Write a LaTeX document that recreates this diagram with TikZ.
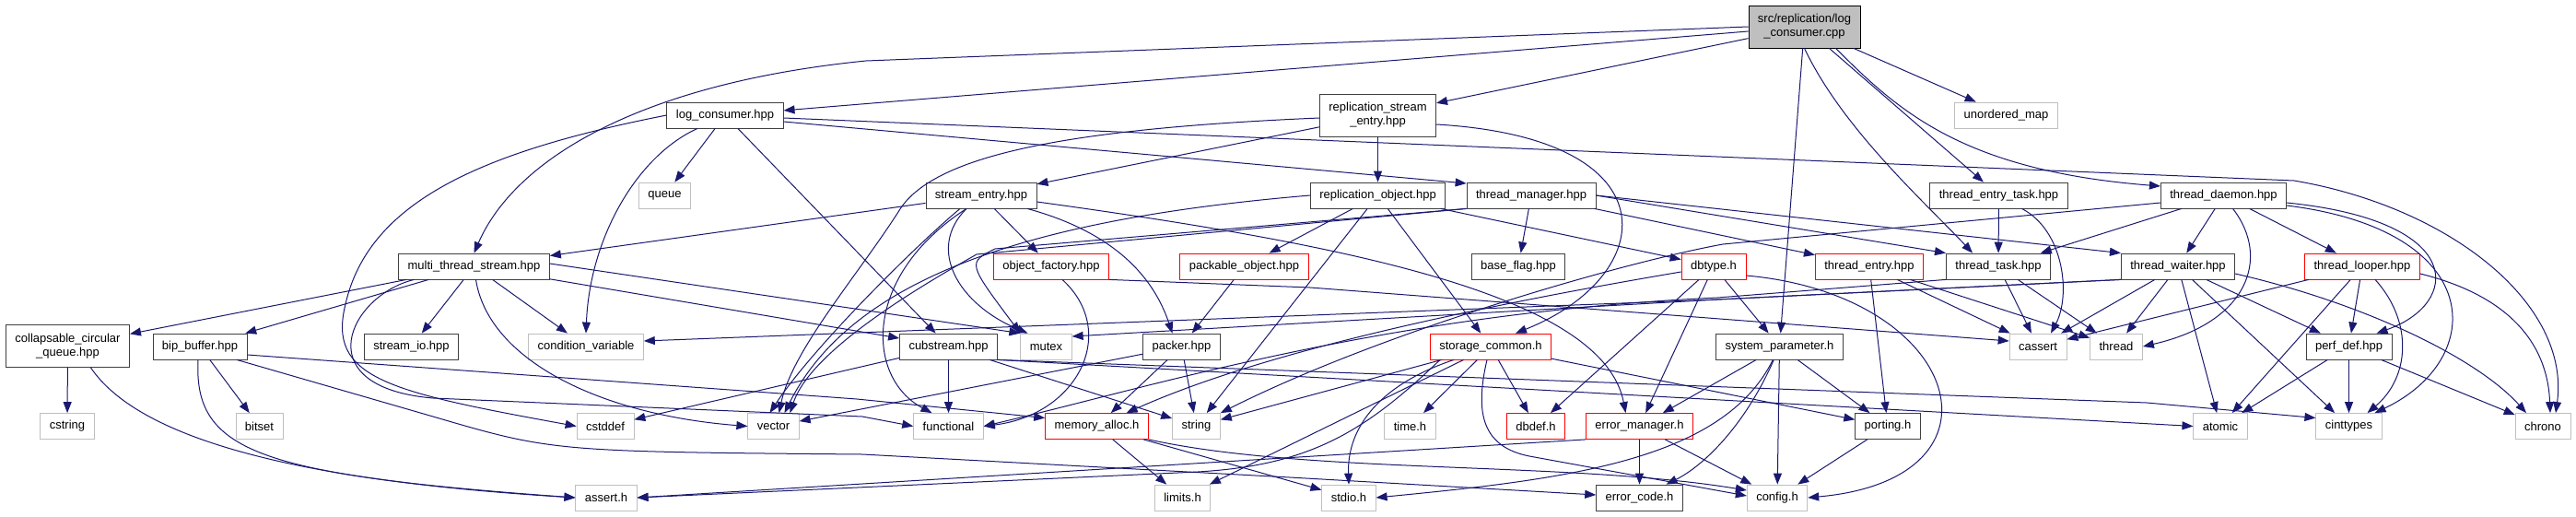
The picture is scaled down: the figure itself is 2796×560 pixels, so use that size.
\documentclass[tikz,border=0pt]{standalone}
\usepackage{fontspec}
\setmainfont{Liberation Sans}
\usepackage{tikz}
\usetikzlibrary{arrows.meta}

\definecolor{edgeblue}{HTML}{191970}
\definecolor{sysgray}{HTML}{BFBFBF}
\definecolor{rootgray}{HTML}{BFBFBF}
\definecolor{hdrline}{HTML}{404040}

\begin{document}
\begin{tikzpicture}[x=1pt, y=-1pt,
    box/.style={rectangle, font=\fontsize{13}{15}\selectfont, inner xsep=10pt, inner ysep=2pt,
        minimum height=28pt, line width=0.8pt, align=center, fill=white},
    tall/.style={minimum height=46pt},
    hdr/.style={box, draw=hdrline},
    sysinc/.style={box, draw=sysgray},
    trunc/.style={box, draw=red},
    rootfile/.style={box, draw=black, fill=rootgray},
    dep/.style={draw=edgeblue, line width=1pt, -{Triangle[length=12pt, width=9pt]}},
]

\path[use as bounding box, fill=white] (0,0) rectangle (2796,560);

% row 0 and 1
\node[rootfile, tall] (cpp) at (1958.5,29) {src/replication/log\\\_consumer.cpp};
\node[hdr] (lchpp) at (787,125) {log\_consumer.hpp};
\node[hdr, tall] (rse) at (1495.5,125) {replication\_stream\\\_entry.hpp};
\node[sysinc] (umap) at (2177.5,125) {unordered\_map};

% row 2
\node[sysinc] (queue) at (721.5,212) {queue};
\node[hdr] (sentry) at (1065,212) {stream\_entry.hpp};
\node[hdr] (robj) at (1495.5,212) {replication\_object.hpp};
\node[hdr] (tmgr) at (1662,212) {thread\_manager.hpp};
\node[hdr] (tetask) at (2169.5,212) {thread\_entry\_task.hpp};
\node[hdr] (tdaemon) at (2413.5,212) {thread\_daemon.hpp};

% row 3
\node[hdr] (mts) at (514.5,289) {multi\_thread\_stream.hpp};
\node[trunc] (ofact) at (1141,289) {object\_factory.hpp};
\node[trunc] (pobj) at (1350.5,289) {packable\_object.hpp};
\node[hdr] (bflag) at (1648,289) {base\_flag.hpp};
\node[trunc] (dbtype) at (1860,289) {dbtype.h};
\node[trunc] (tentry) at (2029,289) {thread\_entry.hpp};
\node[hdr] (ttask) at (2169,289) {thread\_task.hpp};
\node[hdr] (twaiter) at (2364,289) {thread\_waiter.hpp};
\node[trunc] (tlooper) at (2564,289) {thread\_looper.hpp};

% row 4
\node[hdr, tall] (ccq) at (73.5,375.5) {collapsable\_circular\\\_queue.hpp};
\node[hdr] (bipbuf) at (217,376) {bip\_buffer.hpp};
\node[hdr] (sio) at (446.5,376) {stream\_io.hpp};
\node[sysinc] (condvar) at (636,376) {condition\_variable};
\node[hdr] (cubs) at (1029.5,376) {cubstream.hpp};
\node[sysinc] (mutex) at (1135.5,376) {mutex};
\node[hdr] (packer) at (1282.5,376) {packer.hpp};
\node[trunc] (stcom) at (1618,376) {storage\_common.h};
\node[hdr] (sysparam) at (1931.5,376) {system\_parameter.h};
\node[sysinc] (cassert) at (2212,376) {cassert};
\node[sysinc] (thread) at (2297,376) {thread};
\node[hdr] (perfdef) at (2549.5,376) {perf\_def.hpp};

% row 5
\node[sysinc] (cstring) at (73,462.5) {cstring};
\node[sysinc] (bitset) at (281.5,462.5) {bitset};
\node[sysinc] (cstddef) at (657,462.5) {cstddef};
\node[sysinc] (vector) at (839.5,462.5) {vector};
\node[sysinc] (functional) at (1029.5,462.5) {functional};
\node[trunc] (malloc) at (1190.5,462.5) {memory\_alloc.h};
\node[sysinc] (string) at (1298.5,462.5) {string};
\node[sysinc] (timeh) at (1530.5,462.5) {time.h};
\node[trunc] (dbdef) at (1667,462.5) {dbdef.h};
\node[trunc] (errmgr) at (1779.5,462.5) {error\_manager.h};
\node[hdr] (porting) at (2049,462.5) {porting.h};
\node[sysinc] (atomic) at (2410,462.5) {atomic};
\node[sysinc] (cinttypes) at (2549.5,462.5) {cinttypes};
\node[sysinc] (chrono) at (2760,462.5) {chrono};

% row 6
\node[sysinc] (asserth) at (658,540) {assert.h};
\node[sysinc] (limits) at (1283.5,540) {limits.h};
\node[sysinc] (stdio) at (1464,540) {stdio.h};
\node[hdr] (errcode) at (1779.5,540) {error\_code.h};
\node[sysinc] (config) at (1929,540) {config.h};

% short includes
\foreach \src/\dst in {cpp/lchpp, cpp/rse, cpp/sysparam, cpp/tetask, cpp/umap,
    lchpp/queue, lchpp/cubs, rse/sentry, rse/robj, sentry/mts, sentry/ofact,
    robj/pobj, robj/stcom, robj/dbtype, robj/string, tmgr/bflag, tmgr/tentry,
    pobj/packer, packer/string, packer/malloc, packer/vector,
    dbtype/sysparam, dbtype/errmgr, dbtype/dbdef,
    stcom/timeh, stcom/dbdef, stcom/porting, stcom/string, stcom/limits,
    errmgr/errcode, errmgr/config, sysparam/errmgr, sysparam/porting, sysparam/config,
    porting/config, tentry/porting, tentry/cassert, tentry/thread,
    ttask/cassert, ttask/thread, tetask/ttask,
    tdaemon/ttask, tdaemon/twaiter, tdaemon/tlooper,
    twaiter/cassert, twaiter/thread, twaiter/atomic, twaiter/cinttypes, twaiter/perfdef,
    tlooper/atomic, tlooper/perfdef, tlooper/cassert,
    perfdef/atomic, perfdef/cinttypes, perfdef/chrono,
    cubs/functional, cubs/string, cubs/cstddef, malloc/limits, malloc/stdio,
    ccq/cstring, bipbuf/bitset, mts/ccq, mts/bipbuf, mts/sio, mts/condvar, mts/cubs}
    \draw[dep] (\src) -- (\dst);

% routed includes
\draw[dep] (cpp.west) -- (940,66) .. controls (700,90) and (560,170) .. (mts.north);
\draw[dep] (cpp.south) .. controls (2000,140) and (2090,220) .. ([xshift=-28]ttask.north);
\draw[dep] ([xshift=-27]cpp.south east) .. controls (2060,120) and (2130,185) .. ([yshift=10]tdaemon.west);

\draw[dep] ([xshift=-30]lchpp.south) .. controls (690,170) and (640,260) .. (condvar.north);
\draw[dep] (lchpp.west) .. controls (520,165) and (400,220) .. (375,330)
    .. controls (355,410) and (420,425) .. (cstddef.west);
\draw[dep] ([yshift=-7]lchpp.east) -- ([yshift=13]tmgr.west);
\draw[dep] ([yshift=-3]lchpp.east) -- (2490,196) .. controls (2660,225) and (2790,330) .. ([xshift=14]chrono.north);

\draw[dep] ([yshift=-10]rse.east) .. controls (1820,150) and (1800,300) .. ([xshift=27]stcom.north);
\draw[dep] ([yshift=-3]rse.west) .. controls (1150,140) and (1010,170) .. (975,230)
    .. controls (930,300) and (860,380) .. ([xshift=6]vector.north);

\draw[dep] ([xshift=50]sentry.south) .. controls (1220,255) and (1255,310) .. ([xshift=-10]packer.north);
\draw[dep] ([yshift=-7]sentry.east) .. controls (1460,265) and (1740,320) .. ([xshift=-15]errmgr.north);
\draw[dep] ([xshift=-23]sentry.south) .. controls (990,270) and (880,380) .. ([xshift=-4]vector.north);
\draw[dep] ([xshift=-16]sentry.south) .. controls (1005,270) and (1040,330) .. ([xshift=-20]mutex.north);
\draw[dep] ([xshift=-16]sentry.south) .. controls (935,300) and (940,410) .. ([xshift=-18]functional.north);

\draw[dep] (robj.west) .. controls (1150,235) and (930,290) .. ([xshift=12]vector.north);
\draw[dep] (tmgr.east) -- (ttask.north west);
\draw[dep] (tmgr.east) -- (twaiter.north west);
\draw[dep] (tmgr.south west) -- (1080,270) .. controls (1050,285) .. (mutex.north west);
\draw[dep] (tmgr.south west) -- (1060,276) .. controls (1000,310) and (880,380) .. ([xshift=18]vector.north);

\draw[dep] ([xshift=12]ofact.south) .. controls (1215,360) and (1170,450) .. (functional.east);
\draw[dep] (ofact.south east) -- (1422,312) -- ([yshift=6]cassert.west);

\draw[dep] (dbtype) .. controls (1500,350) and (1330,400) .. (malloc);
\draw[dep] ([yshift=-10]dbtype.east) .. controls (2130,320) and (2190,520) .. (config.east);

\draw[dep] ([xshift=-40]stcom.south) .. controls (1490,420) and (1462,470) .. (stdio.north);
\draw[dep] ([xshift=-4]stcom.south) .. controls (1600,450) and (1610,485) .. (1660,495) -- ([yshift=2]config.west);
\draw[dep] ([xshift=-55]stcom.south) .. controls (1480,470) and (1420,505) .. (1300,512) -- (asserth.east);
\draw[dep] (errmgr.south west) -- (asserth.east);

\draw[dep] (sysparam) .. controls (1895,460) and (1850,505) .. (errcode);
\draw[dep] (sysparam) .. controls (1870,500) and (1700,520) .. (stdio.east);
\draw[dep] (malloc.south east) .. controls (1420,515) and (1700,500) .. ([yshift=8]config.west);

\draw[dep] ([xshift=25]ccq.south) .. controls (160,490) and (380,525) .. (asserth.west);
\draw[dep] ([xshift=-2]bipbuf.south) .. controls (210,490) and (280,515) .. (asserth.west);
\draw[dep] ([yshift=-9]bipbuf.east) -- (930,433) -- ([yshift=9]malloc.west);
\draw[dep] ([xshift=40]bipbuf.south) -- (470,452) .. controls (600,490) .. (936,493) -- (1400,518) -- ([yshift=3]errcode.west);

\draw[dep] ([xshift=2]mts.south) .. controls (530,390) and (650,450) .. (vector.west);
\draw[dep] ([xshift=-65]mts.south) .. controls (380,320) and (330,420) .. (470,432) -- (936,452) -- (functional.west);
\draw[dep] ([yshift=3]mts.east) -- (mutex.north west);

\draw[dep] ([xshift=25]tetask.south) .. controls (2240,250) and (2248,320) .. ([xshift=14]cassert.north);
\draw[dep] ([xshift=10]tdaemon.south) .. controls (2465,280) and (2440,350) .. (thread.east);
\draw[dep] ([yshift=-8]tdaemon.east) .. controls (2680,240) and (2670,330) .. ([xshift=30]perfdef.north);
\draw[dep] ([yshift=-11]tdaemon.east) .. controls (2700,250) and (2700,390) .. ([xshift=28]cinttypes.north);
\draw[dep] ([yshift=-8]tdaemon.west) -- (1870,265) .. controls (1760,285) and (1500,360) .. (string.north east);
\draw[dep] (ttask.south west) -- (1864,323) .. controls (1500,340) and (1250,420) .. (functional.east);
\draw[dep] (twaiter.south west) -- (1864,325) -- ([yshift=6]condvar.east);
\draw[dep] (twaiter.south west) -- (1864,325) -- ([yshift=11]mutex.east);
\draw[dep] ([yshift=-8]twaiter.east) .. controls (2570,330) and (2690,390) .. ([xshift=-18]chrono.north);
\draw[dep] ([xshift=14]tlooper.south) .. controls (2620,350) and (2615,410) .. ([xshift=20]cinttypes.north);
\draw[dep] ([yshift=-8]tlooper.east) .. controls (2720,320) and (2765,370) .. ([xshift=8]chrono.north);

\draw[dep] (cubs.south east) -- (atomic.west);
\draw[dep] (cubs.south east) -- (2330,437) -- ([yshift=9]cinttypes.west);

\end{tikzpicture}
\end{document}
